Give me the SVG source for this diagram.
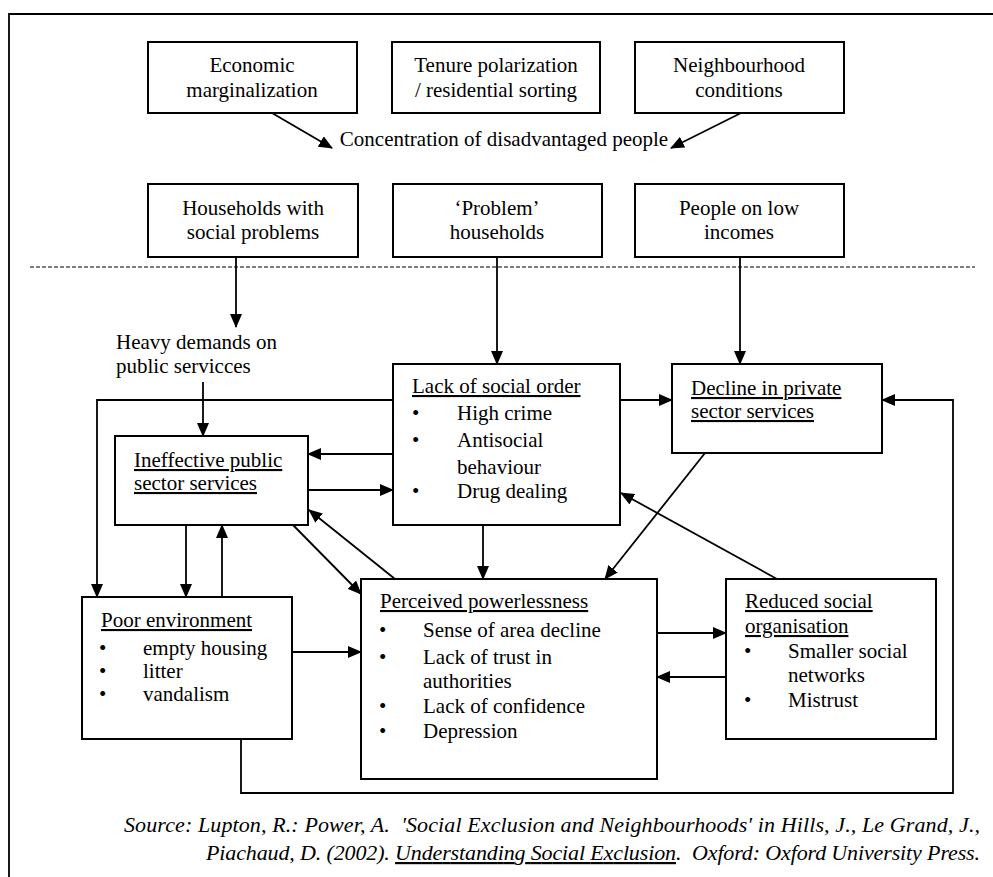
<svg xmlns="http://www.w3.org/2000/svg" width="993" height="877" viewBox="0 0 993 877">
<style>
text{font-family:'Liberation Serif','DejaVu Serif',serif;font-size:21px;fill:#000}
.c{text-anchor:middle}
.u{text-decoration:underline}
.box{fill:#fff;stroke:#000;stroke-width:2}
.ln{fill:none;stroke:#000;stroke-width:1.8}
.src{font-style:italic;font-size:22px}
</style>
<defs>
<marker id="ah" markerUnits="userSpaceOnUse" markerWidth="14" markerHeight="12" refX="13" refY="6" orient="auto">
<path d="M0,0 L14,6 L0,12 Z" fill="#000"/>
</marker>
</defs>
<rect width="993" height="877" fill="#fff"/>
<g id="frame">
<path class="ln" d="M9,877 V14 H993"/>
<line x1="30" y1="267" x2="975" y2="267" stroke="#000" stroke-width="1" stroke-dasharray="4 2"/>
</g>
<g id="connectors">
<line class="ln" x1="272" y1="113" x2="332" y2="148" marker-end="url(#ah)"/>
<line class="ln" x1="741" y1="113" x2="671" y2="148" marker-end="url(#ah)"/>
<line class="ln" x1="236" y1="257" x2="236" y2="327" marker-end="url(#ah)"/>
<line class="ln" x1="497" y1="257" x2="497" y2="364" marker-end="url(#ah)"/>
<line class="ln" x1="740" y1="257" x2="740" y2="364" marker-end="url(#ah)"/>
<line class="ln" x1="203" y1="382" x2="203" y2="436" marker-end="url(#ah)"/>
<path class="ln" d="M393,400 H97 V597" marker-end="url(#ah)"/>
<line class="ln" x1="620" y1="400" x2="672" y2="400" marker-end="url(#ah)"/>
<line class="ln" x1="393" y1="454" x2="308" y2="454" marker-end="url(#ah)"/>
<line class="ln" x1="308" y1="490" x2="393" y2="490" marker-end="url(#ah)"/>
<line class="ln" x1="186" y1="525" x2="186" y2="597" marker-end="url(#ah)"/>
<line class="ln" x1="222" y1="597" x2="222" y2="525" marker-end="url(#ah)"/>
<line class="ln" x1="293" y1="525" x2="361" y2="594" marker-end="url(#ah)"/>
<line class="ln" x1="395" y1="579" x2="309" y2="510" marker-end="url(#ah)"/>
<line class="ln" x1="483" y1="525" x2="483" y2="579" marker-end="url(#ah)"/>
<line class="ln" x1="705" y1="453" x2="605" y2="579" marker-end="url(#ah)"/>
<line class="ln" x1="777" y1="579" x2="621" y2="493" marker-end="url(#ah)"/>
<line class="ln" x1="292" y1="652" x2="361" y2="652" marker-end="url(#ah)"/>
<line class="ln" x1="657" y1="633" x2="726" y2="633" marker-end="url(#ah)"/>
<line class="ln" x1="726" y1="677" x2="657" y2="677" marker-end="url(#ah)"/>
<path class="ln" d="M241,739 V793 H953 V400 H882" marker-end="url(#ah)"/>
</g>
<g id="n-econ">
<rect class="box" x="148" y="42" width="209" height="71"/>
<text class="c" x="252" y="72">Economic</text>
<text class="c" x="252" y="97">marginalization</text>
</g>
<g id="n-tenure">
<rect class="box" x="392" y="42" width="208" height="71"/>
<text class="c" x="496" y="72">Tenure polarization</text>
<text class="c" x="496" y="97">/ residential sorting</text>
</g>
<g id="n-neigh">
<rect class="box" x="635" y="42" width="209" height="71"/>
<text class="c" x="739" y="72">Neighbourhood</text>
<text class="c" x="739" y="97">conditions</text>
</g>
<g id="n-conc">
<text class="c" x="504" y="146">Concentration of disadvantaged people</text>
</g>
<g id="n-hh">
<rect class="box" x="148" y="184" width="210" height="73"/>
<text class="c" x="253" y="215">Households with</text>
<text class="c" x="253" y="239">social problems</text>
</g>
<g id="n-prob">
<rect class="box" x="393" y="184" width="209" height="73"/>
<text class="c" x="497" y="215">‘Problem’</text>
<text class="c" x="497" y="239">households</text>
</g>
<g id="n-low">
<rect class="box" x="635" y="184" width="209" height="73"/>
<text class="c" x="739" y="215">People on low</text>
<text class="c" x="739" y="239">incomes</text>
</g>
<g id="n-heavy">
<text x="116" y="349">Heavy demands on</text>
<text x="116" y="373">public servicces</text>
</g>
<g id="n-lack">
<rect class="box" x="393" y="364" width="227" height="161"/>
<text class="u" x="412" y="393">Lack of social order</text>
<text x="412" y="420">•</text><text x="457" y="420">High crime</text>
<text x="412" y="447">•</text><text x="457" y="447">Antisocial</text>
<text x="457" y="474">behaviour</text>
<text x="412" y="498">•</text><text x="457" y="498">Drug dealing</text>
</g>
<g id="n-decline">
<rect class="box" x="672" y="364" width="210" height="89"/>
<text class="u" x="691" y="395">Decline in private</text>
<text class="u" x="691" y="418">sector services</text>
</g>
<g id="n-ineff">
<rect class="box" x="115" y="436" width="193" height="89"/>
<text class="u" x="134" y="467">Ineffective public</text>
<text class="u" x="134" y="490">sector services</text>
</g>
<g id="n-poor">
<rect class="box" x="82" y="597" width="210" height="142"/>
<text class="u" x="101" y="627">Poor environment</text>
<text x="99" y="655">•</text><text x="143" y="655">empty housing</text>
<text x="99" y="678">•</text><text x="143" y="678">litter</text>
<text x="99" y="701">•</text><text x="143" y="701">vandalism</text>
</g>
<g id="n-perc">
<rect class="box" x="361" y="579" width="296" height="200"/>
<text class="u" x="380" y="608">Perceived powerlessness</text>
<text x="379" y="637">•</text><text x="423" y="637">Sense of area decline</text>
<text x="379" y="664">•</text><text x="423" y="664">Lack of trust in</text>
<text x="423" y="688">authorities</text>
<text x="379" y="713">•</text><text x="423" y="713">Lack of confidence</text>
<text x="379" y="738">•</text><text x="423" y="738">Depression</text>
</g>
<g id="n-reduced">
<rect class="box" x="726" y="579" width="210" height="160"/>
<text class="u" x="745" y="608">Reduced social</text>
<text class="u" x="745" y="633">organisation</text>
<text x="744" y="658">•</text><text x="788" y="658">Smaller social</text>
<text x="788" y="682">networks</text>
<text x="744" y="707">•</text><text x="788" y="707">Mistrust</text>
</g>
<g id="source">
<text class="src" x="124" y="832" textLength="856" lengthAdjust="spacing" xml:space="preserve">Source: Lupton, R.: Power, A.  'Social Exclusion and Neighbourhoods' in Hills, J., Le Grand, J.,</text>
<text class="src" x="206" y="860" textLength="774" lengthAdjust="spacing" xml:space="preserve">Piachaud, D. (2002). <tspan class="u">Understanding Social Exclusion</tspan>.  Oxford: Oxford University Press.</text>
</g>
</svg>
